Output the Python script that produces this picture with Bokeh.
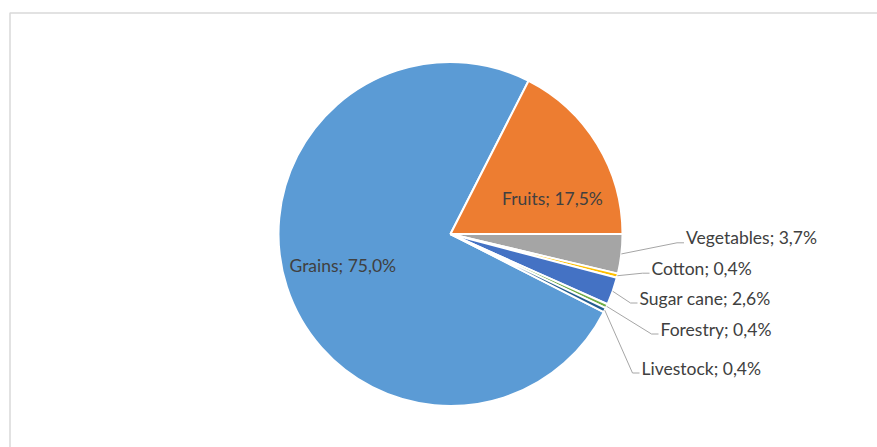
import numpy as np
from bokeh.plotting import figure
from bokeh.models import Range1d, ColumnDataSource
from bokeh.core.properties import value
from bokeh.embed import file_html
from bokeh.resources import INLINE

# ---- data ----
categories = ["Grains", "Fruits", "Vegetables", "Cotton", "Sugar cane", "Forestry", "Livestock"]
shares = [75.0, 17.5, 3.7, 0.4, 2.6, 0.4, 0.4]
colors = ["#5B9BD5", "#ED7D31", "#A5A5A5", "#FFC000", "#4472C4", "#70AD47", "#255E91"]

# ---- layout (screen pixel coordinates) ----
W, H = 877, 447


def py(y):
    return H - y


cx, cy, R = 450, py(233.5), 172
first_angle = np.deg2rad(-27.0)  # start of first slice, slices run clockwise

label_left = [289, 501.5, 685.5, 651, 639, 660, 641]
label_base = [270, 203, 242.3, 272.7, 302.5, 333.5, 372.5]
has_leader = [False, False, True, True, True, True, True]
TEXT_SHIFT = 5
FONT = "Lato"
FSIZE = "17.5px"

frac = np.array(shares) / sum(shares)
cum = np.concatenate([[0.0], np.cumsum(frac)])
starts = first_angle - cum[:-1] * 2 * np.pi
ends = first_angle - cum[1:] * 2 * np.pi
mids = (starts + ends) / 2

p = figure(width=W, height=H, output_backend="svg", toolbar_location=None,
           x_range=Range1d(0, W), y_range=Range1d(0, H),
           min_border=0, outline_line_color=None)
p.axis.visible = False
p.grid.visible = False
p.background_fill_color = "white"
p.border_fill_color = "white"

# chart frame (top and left edges visible)
p.line([9.5, 9.5, 1000], [-100, py(12.5), py(12.5)], line_color="#D9D9D9", line_width=1.5)

src = ColumnDataSource(dict(start=starts, end=ends, color=colors, cat=categories))
p.wedge(x=cx, y=cy, radius=R, start_angle="start", end_angle="end", direction="clock",
        fill_color="color", line_color="white", line_width=2, source=src)

texts = [f"{c}; {v:.1f}%".replace(".", ",") for c, v in zip(categories, shares)]

lx, ly = [], []
for i in range(len(categories)):
    if has_leader[i]:
        ax = cx + R * np.cos(mids[i])
        ay = cy + R * np.sin(mids[i])
        b = py(label_base[i])
        lx.append([ax, label_left[i] - 9, label_left[i] - 2])
        ly.append([ay, b, b])
p.multi_line(lx, ly, line_color="#A6A6A6", line_width=1)

p.text(x=label_left, y=[py(b - TEXT_SHIFT) for b in label_base], text=texts,
       text_font=value(FONT), text_font_size=FSIZE, text_color="#404040",
       text_align="left", text_baseline="alphabetic")

open("out.html", "w").write(file_html(p, INLINE))
